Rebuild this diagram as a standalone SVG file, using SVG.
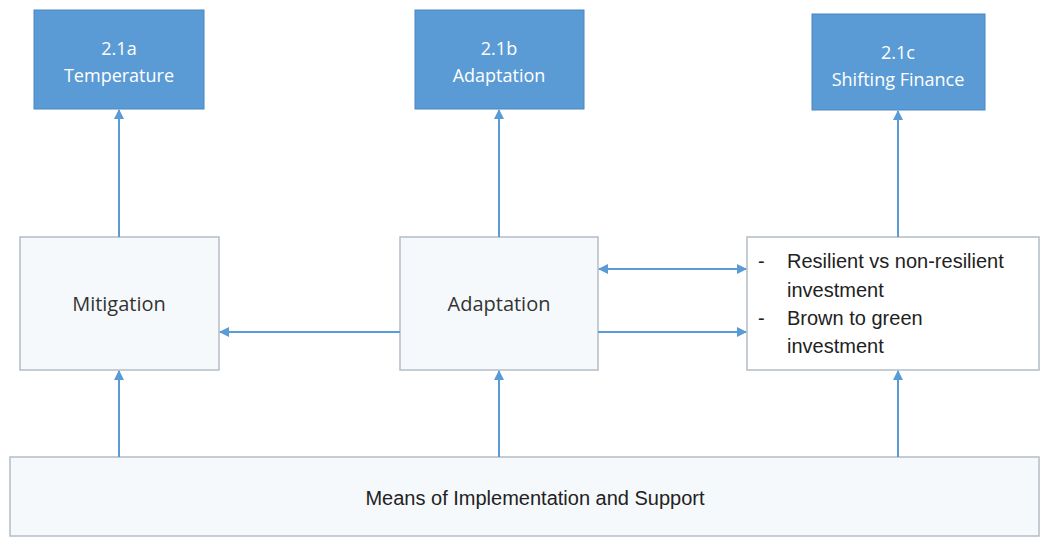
<svg xmlns="http://www.w3.org/2000/svg" width="1042" height="537" viewBox="0 0 1042 537">
<style>
.top{fill:#5b9bd5;stroke:#4a86c0;stroke-width:1}
.box{fill:#f6f9fc;stroke:#b4bcc6;stroke-width:1.5}
.tw{font-family:"Open Sans","Liberation Sans",sans-serif;font-size:18px;fill:#ffffff;text-anchor:middle}
.tb{font-family:"Open Sans","Liberation Sans",sans-serif;font-size:20px;fill:#333333;text-anchor:middle}
.tl{font-family:"Liberation Sans",sans-serif;font-size:20px;fill:#222222}
.c{stroke:#5b9bd5;stroke-width:2;fill:none}
</style>
<defs>
<marker id="ah" viewBox="0 0 10 10" refX="9" refY="5" markerWidth="5" markerHeight="5" orient="auto-start-reverse">
<path d="M0,0 L10,5 L0,10 z" fill="#5b9bd5"/>
</marker>
</defs>
<rect width="1042" height="537" fill="#ffffff"/>
<g id="n21a"><rect class="top" x="34" y="10" width="170" height="99"/><text class="tw" x="119" y="55">2.1a</text><text class="tw" x="119" y="82">Temperature</text></g>
<g id="n21b"><rect class="top" x="415" y="10" width="169" height="99"/><text class="tw" x="499" y="55">2.1b</text><text class="tw" x="499" y="82">Adaptation</text></g>
<g id="n21c"><rect class="top" x="812" y="14" width="173" height="96"/><text class="tw" x="898" y="59">2.1c</text><text class="tw" x="898" y="86">Shifting Finance</text></g>
<g id="mitigation"><rect class="box" x="20" y="237" width="199" height="133"/><text class="tb" x="119" y="311">Mitigation</text></g>
<g id="adaptation"><rect class="box" x="400" y="237" width="198" height="133"/><text class="tb" x="499" y="311">Adaptation</text></g>
<g id="finance"><rect fill="#ffffff" stroke="#b4bcc6" stroke-width="1.5" x="747" y="237" width="292" height="133"/>
<text class="tl" x="758" y="268">-</text><text class="tl" x="787" y="268">Resilient vs non-resilient</text>
<text class="tl" x="787" y="297">investment</text>
<text class="tl" x="758" y="325">-</text><text class="tl" x="787" y="325">Brown to green</text>
<text class="tl" x="787" y="353">investment</text></g>
<g id="means"><rect class="box" x="10" y="457" width="1029" height="79"/><text class="tb" x="535" y="505" style="font-family:'Liberation Sans',sans-serif;font-size:20px;fill:#222222">Means of Implementation and Support</text></g>
<g id="connectors">
<line class="c" x1="119" y1="237" x2="119" y2="110" marker-end="url(#ah)"/>
<line class="c" x1="499" y1="237" x2="499" y2="110" marker-end="url(#ah)"/>
<line class="c" x1="898" y1="237" x2="898" y2="111" marker-end="url(#ah)"/>
<line class="c" x1="119" y1="457" x2="119" y2="371" marker-end="url(#ah)"/>
<line class="c" x1="499" y1="457" x2="499" y2="371" marker-end="url(#ah)"/>
<line class="c" x1="898" y1="457" x2="898" y2="371" marker-end="url(#ah)"/>
<line class="c" x1="400" y1="332" x2="220" y2="332" marker-end="url(#ah)"/>
<line class="c" x1="599" y1="269" x2="746" y2="269" marker-start="url(#ah)" marker-end="url(#ah)"/>
<line class="c" x1="598" y1="332" x2="746" y2="332" marker-end="url(#ah)"/>
</g>
</svg>
